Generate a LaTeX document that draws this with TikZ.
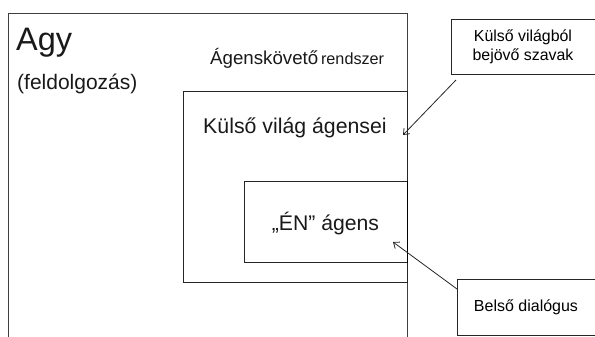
\documentclass[tikz,border=0pt]{standalone}
\usepackage{fontspec}
\setmainfont{Liberation Sans}
\usetikzlibrary{arrows.meta,positioning}
\tikzset{
  boxline/.style={draw=black!85, line width=0.9pt},
  panel/.style={boxline, rectangle, inner sep=0pt},
  lbl/.style={inner sep=0pt, text=black!90},
  callout/.style={draw=black!85, line width=0.8pt, -{Straight Barb[length=5pt,width=8pt]}}
}
\begin{document}
\begin{tikzpicture}[x=1pt,y=-1pt]
\useasboundingbox (0,0) rectangle (595,337);
% outer "Agy" frame (open at the bottom)
\coordinate (agyBL) at (8,337);
\coordinate (agyTL) at (8,13);
\coordinate (agyTR) at (407,13);
\coordinate (agyBR) at (407,337);
\draw[draw=black!75, line width=0.8pt] (agyBL) -- (agyTL) -- (agyTR) -- (agyBR);
\node[lbl, anchor=base west, font=\fontsize{32.5}{36}\selectfont] (agy) at (16,51) {Agy};
\node[lbl, anchor=base west, font=\fontsize{21}{24}\selectfont] (feld) at (17,89) {(feldolgozás)};
\node[lbl, anchor=base west] (ak) at (210,65) {{\fontsize{18.7}{21}\selectfont Ágenskövető} {\fontsize{16.2}{18}\selectfont rendszer}};
% Külső világ ágensei box
\node[panel, minimum width=224pt, minimum height=191pt] (kulso) at (295,186.5) {};
\node[lbl, anchor=base, font=\fontsize{21.3}{24}\selectfont] (kulsot) at (295,133) {Külső világ ágensei};
% ÉN box
\node[panel, line width=1pt, minimum width=163pt, minimum height=81pt] (en) at (325.5,221.5) {};
\node[lbl, anchor=base, font=\fontsize{21.2}{24}\selectfont] (ent) at (325.5,230) {„ÉN” ágens};
% redraw shared right edge
\draw[black, line width=1.6pt] (en.north east) -- (en.south east);
% callout boxes
\node[panel, minimum width=144pt, minimum height=55pt, align=center, font=\fontsize{15.9}{19}\selectfont] (szavak) at (523,46.5) {Külső világból\\bejövő szavak};
\node[panel, minimum width=138pt, minimum height=56pt, font=\fontsize{16}{19}\selectfont] (dial) at (526,307) {Belső dialógus};
% arrows
\coordinate (a1s) at (456,80);
\coordinate (a1e) at (403,135);
\coordinate (a2s) at (457,289);
\coordinate (a2e) at (393,242);
\draw[callout] (a1s) -- (a1e);
\draw[callout] (a2s) -- (a2e);
\end{tikzpicture}
\end{document}
